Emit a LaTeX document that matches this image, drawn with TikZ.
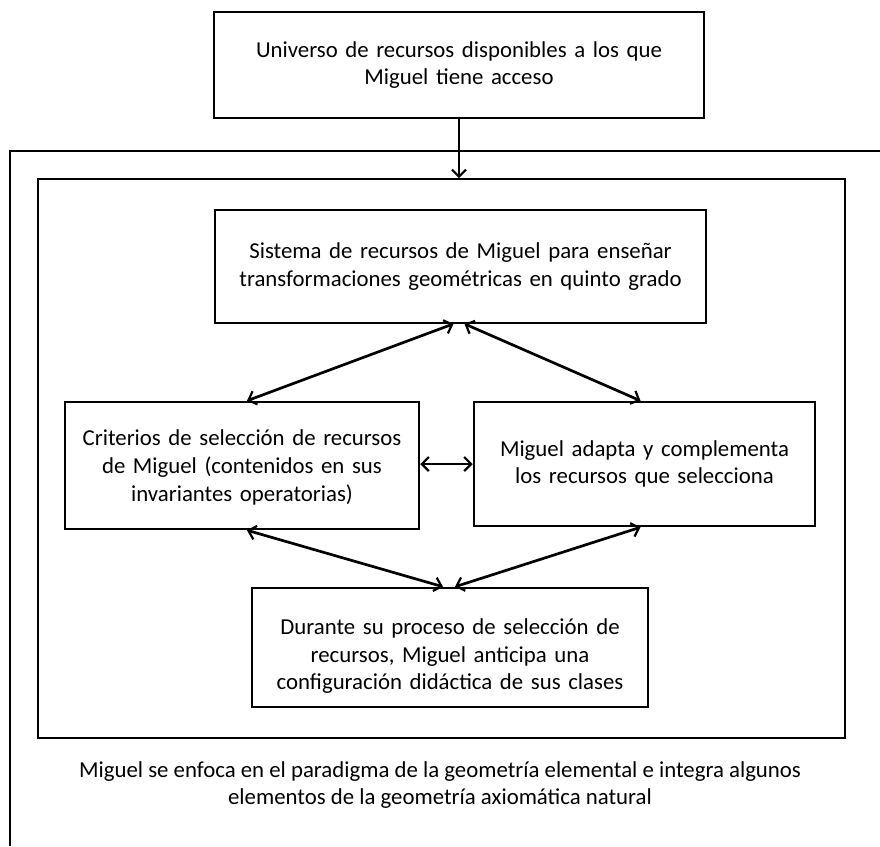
\documentclass[tikz,border=0pt]{standalone}
\usepackage{fontspec}
\setmainfont{Carlito}
\usetikzlibrary{arrows.meta}
\tikzset{
  boxa/.style={draw=black, line width=1.7pt, fill=white, align=center, inner sep=0pt, font=\fontsize{22.8}{27.8}\selectfont},
  boxb/.style={boxa, line width=2.5pt},
  frame/.style={draw=black, line width=1.7pt},
  conn/.style={line width=2.7pt, {Straight Barb[length=7pt,width=14pt,line width=2.2pt]}-{Straight Barb[length=7pt,width=14pt,line width=2.2pt]}},
  oneway/.style={line width=2.7pt, -{Straight Barb[length=7pt,width=14pt,line width=2.2pt]}},
  plaintext/.style={align=center, inner sep=0pt, font=\fontsize{22.8}{27.8}\selectfont}
}
\begin{document}
\begin{tikzpicture}[x=1pt,y=-1pt]
\useasboundingbox (0,0) rectangle (880,846);
% outer open frame
\coordinate (ofTR) at (880,151);
\coordinate (ofTL) at (10,151);
\coordinate (ofBL) at (10,846);
\draw[frame] (ofTR) -- (ofTL) -- (ofBL);
% inner box
\node[draw=black, line width=1.7pt, minimum width=807pt, minimum height=559pt, inner sep=0pt] (inner) at (441.5,458.5) {};
% top box
\node[boxa, minimum width=490pt, minimum height=106pt, text width=470pt] (top) at (459,65)
  {Universo de recursos disponibles a los que\\Miguel tiene acceso};
% sistema
\node[boxa, minimum width=491pt, minimum height=113pt, text width=475pt] (sis) at (460.5,266.5)
  {Sistema de recursos de Miguel para enseñar\\transformaciones geométricas en quinto grado};
% criterios
\node[boxb, minimum width=354pt, minimum height=127pt, text width=345pt] (crit) at (242,465.5)
  {\rule{0pt}{20pt}Criterios de selección de recursos\\de Miguel (contenidos en sus\\invariantes operatorias)};
% adapta
\node[boxb, minimum width=341pt, minimum height=124pt, text width=330pt] (adap) at (644.5,464)
  {Miguel adapta y complementa\\los recursos que selecciona};
% durante
\node[boxb, minimum width=396pt, minimum height=119pt, text width=385pt] (dur) at (450,647.5)
  {\rule{0pt}{33pt}Durante su proceso de selección de\\recursos, Miguel anticipa una\\configuración didáctica de sus clases};
% bottom text
\node[plaintext] (note) at (440,785)
  {Miguel se enfoca en el paradigma de la geometría elemental e integra algunos\\elementos de la geometría axiomática natural};
% connectors
\draw[oneway] (top.south) -- (top.south |- inner.north);
\draw[conn] ([xshift=-7pt]sis.south) -- ([xshift=5pt]crit.north);
\draw[conn] ([xshift=4pt]sis.south) -- ([xshift=-4pt]adap.north);
\draw[conn] (crit.east |- adap.west) -- (adap.west);
\draw[conn] ([xshift=5pt]crit.south) -- ([xshift=-7pt]dur.north);
\draw[conn] ([xshift=-4pt]adap.south) -- ([xshift=5pt]dur.north);
\end{tikzpicture}
\end{document}
